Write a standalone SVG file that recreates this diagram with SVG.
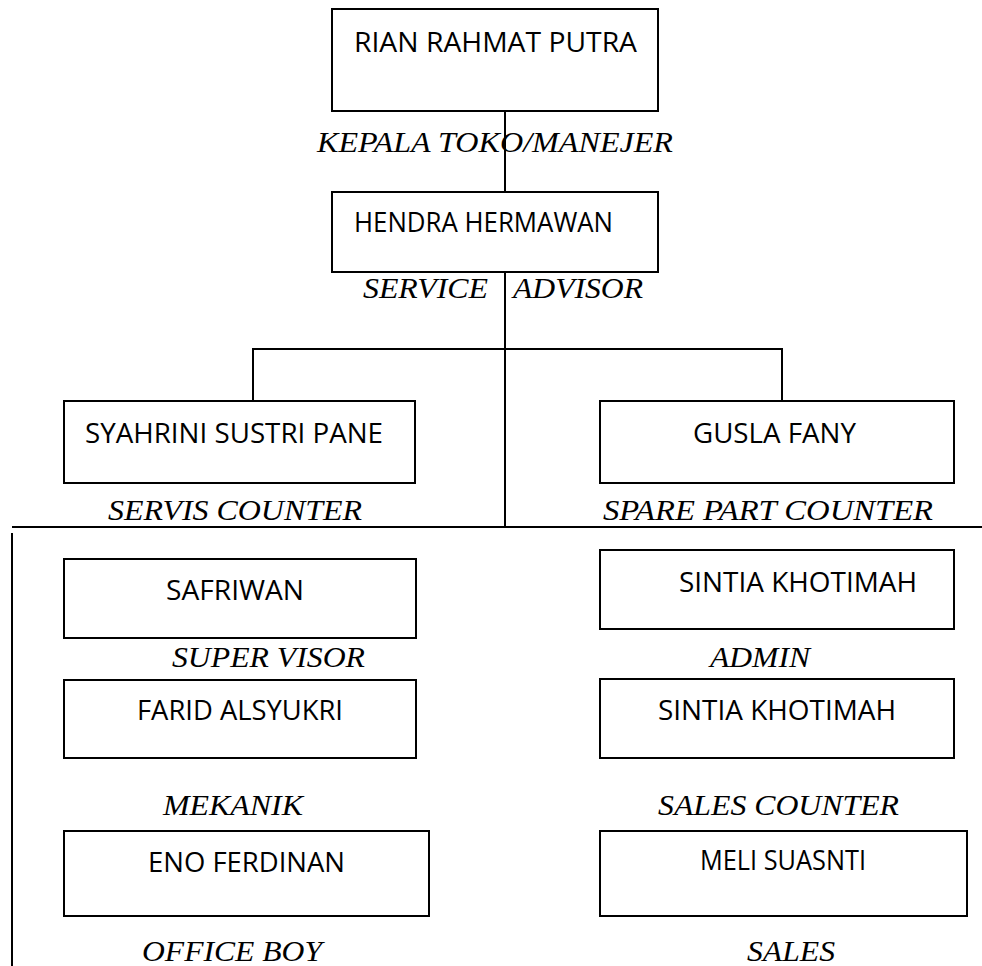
<svg xmlns="http://www.w3.org/2000/svg" width="982" height="966" viewBox="0 0 982 966">
<style>
.box{fill:#fff;stroke:#000;stroke-width:2}
.ln{fill:none;stroke:#000;stroke-width:2}
.nm{font-family:"Open Sans","Liberation Sans",sans-serif;font-size:27px;fill:#000}
.rl{font-family:"Liberation Serif","Times New Roman",serif;font-style:italic;font-size:30px;fill:#000}
</style>
<rect width="982" height="966" fill="#fff"/>
<g id="connectors">
<path class="ln" d="M505 111V192M505 272V527M253 401V349H782V401M12 527H982M12 533V966"/>
</g>
<g id="n-rian"><rect class="box" x="332" y="9" width="326" height="102"/><text class="nm" x="354" y="52" textLength="283" lengthAdjust="spacingAndGlyphs">RIAN RAHMAT PUTRA</text></g>
<g id="l-kepala"><text class="rl" x="317" y="152" textLength="356" lengthAdjust="spacingAndGlyphs">KEPALA TOKO/MANEJER</text></g>
<g id="n-hendra"><rect class="box" x="332" y="192" width="326" height="80"/><text class="nm" x="354" y="232" textLength="259" lengthAdjust="spacingAndGlyphs">HENDRA HERMAWAN</text></g>
<g id="l-service"><text class="rl" x="363" y="298" textLength="125" lengthAdjust="spacingAndGlyphs">SERVICE</text><text class="rl" x="513" y="298" textLength="130" lengthAdjust="spacingAndGlyphs">ADVISOR</text></g>
<g id="n-syahrini"><rect class="box" x="64" y="401" width="351" height="82"/><text class="nm" x="85" y="443" textLength="298" lengthAdjust="spacingAndGlyphs">SYAHRINI SUSTRI PANE</text></g>
<g id="l-servis"><text class="rl" x="108" y="520" textLength="254" lengthAdjust="spacingAndGlyphs">SERVIS COUNTER</text></g>
<g id="n-gusla"><rect class="box" x="600" y="401" width="354" height="82"/><text class="nm" x="693" y="443" textLength="163" lengthAdjust="spacingAndGlyphs">GUSLA FANY</text></g>
<g id="l-spare"><text class="rl" x="603" y="520" textLength="330" lengthAdjust="spacingAndGlyphs">SPARE PART COUNTER</text></g>
<g id="n-safriwan"><rect class="box" x="64" y="559" width="352" height="79"/><text class="nm" x="166" y="600" textLength="138" lengthAdjust="spacingAndGlyphs">SAFRIWAN</text></g>
<g id="l-super"><text class="rl" x="172" y="667" textLength="193" lengthAdjust="spacingAndGlyphs">SUPER VISOR</text></g>
<g id="n-farid"><rect class="box" x="64" y="680" width="352" height="78"/><text class="nm" x="137" y="720" textLength="206" lengthAdjust="spacingAndGlyphs">FARID ALSYUKRI</text></g>
<g id="l-mekanik"><text class="rl" x="163" y="815" textLength="140" lengthAdjust="spacingAndGlyphs">MEKANIK</text></g>
<g id="n-eno"><rect class="box" x="64" y="831" width="365" height="85"/><text class="nm" x="148" y="872" textLength="197" lengthAdjust="spacingAndGlyphs">ENO FERDINAN</text></g>
<g id="l-office"><text class="rl" x="142" y="961" textLength="180" lengthAdjust="spacingAndGlyphs">OFFICE BOY</text></g>
<g id="n-sintia1"><rect class="box" x="600" y="550" width="354" height="79"/><text class="nm" x="679" y="592" textLength="238" lengthAdjust="spacingAndGlyphs">SINTIA KHOTIMAH</text></g>
<g id="l-admin"><text class="rl" x="710" y="667" textLength="100" lengthAdjust="spacingAndGlyphs">ADMIN</text></g>
<g id="n-sintia2"><rect class="box" x="600" y="679" width="354" height="79"/><text class="nm" x="658" y="720" textLength="238" lengthAdjust="spacingAndGlyphs">SINTIA KHOTIMAH</text></g>
<g id="l-sales-counter"><text class="rl" x="658" y="815" textLength="241" lengthAdjust="spacingAndGlyphs">SALES COUNTER</text></g>
<g id="n-meli"><rect class="box" x="600" y="831" width="367" height="85"/><text class="nm" x="700" y="870" textLength="166" lengthAdjust="spacingAndGlyphs">MELI SUASNTI</text></g>
<g id="l-sales"><text class="rl" x="747" y="961" textLength="88" lengthAdjust="spacingAndGlyphs">SALES</text></g>
</svg>
